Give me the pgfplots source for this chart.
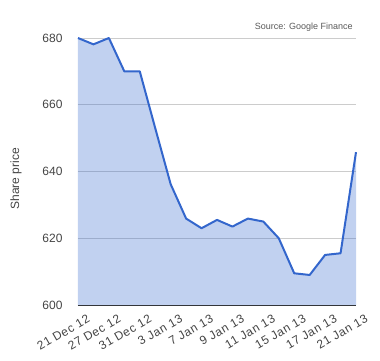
\documentclass[border=0pt]{standalone}
\usepackage{fontspec}
\setmainfont{Liberation Sans}
\usepackage{pgfplots}
\pgfplotsset{compat=1.18}
\definecolor{gline}{HTML}{3366CC}
\definecolor{gfill}{HTML}{C2D1F0}
\definecolor{gtext}{HTML}{444444}
\definecolor{ggrid}{HTML}{CCCCCC}
\begin{document}
\begin{tikzpicture}
\useasboundingbox (0pt,0pt) rectangle (380pt,360pt);
\begin{axis}[
  at={(78pt,55pt)}, anchor=south west,
  width=278pt, height=267pt, scale only axis,
  xmin=0, xmax=18, ymin=600, ymax=680,
  enlargelimits=false,
  axis lines*=left,
  y axis line style={draw=none},
  x axis line style={draw=black!80, line width=1pt},
  tick style={draw=none},
  ymajorgrids, grid style={ggrid, line width=0.8pt},
  ytick={600,620,640,660,680},
  xtick={0,2,4,6,8,10,12,14,16,18},
  xticklabels={21 Dec 12,27 Dec 12,31 Dec 12,3 Jan 13,7 Jan 13,9 Jan 13,11 Jan 13,15 Jan 13,17 Jan 13,21 Jan 13},
  /pgf/number format/assume math mode=true,
  ticklabel style={font=\fontsize{12}{14}\selectfont, text=gtext},
  xticklabel style={font=\fontsize{12}{14}\selectfont\addfontfeatures{LetterSpace=5}, rotate=30, anchor=north east, inner sep=1pt, yshift=-11pt, xshift=4pt},
  yticklabel style={xshift=-12pt},
  ylabel={Share price},
  ylabel style={at={(axis description cs:-0.223,0.472)}, anchor=center, font=\fontsize{12}{14}\selectfont, text=gtext},
  clip=false,
]
\addplot[draw=none, fill=gline, fill opacity=0.3] coordinates {
(0,680) (1,678.1) (2,680) (3,670) (4,670) (5,653) (6,636.2) (7,625.9) (8,623.0) (9,625.5)
(10,623.5) (11,625.9) (12,625.0) (13,620.0) (14,609.5) (15,609.0) (16,615.0) (17,615.5) (18,645.8)
} \closedcycle;
\addplot[gline, line width=2pt, line join=round, mark=none] coordinates {
(0,680) (1,678.1) (2,680) (3,670) (4,670) (5,653) (6,636.2) (7,625.9) (8,623.0) (9,625.5)
(10,623.5) (11,625.9) (12,625.0) (13,620.0) (14,609.5) (15,609.0) (16,615.0) (17,615.5) (18,645.8)
};
\node[anchor=east, font=\fontsize{9}{11}\selectfont, text=black!65, inner sep=0pt] at (axis description cs:0.989,1.041) {Source: Google Finance};
\end{axis}
\end{tikzpicture}
\end{document}
